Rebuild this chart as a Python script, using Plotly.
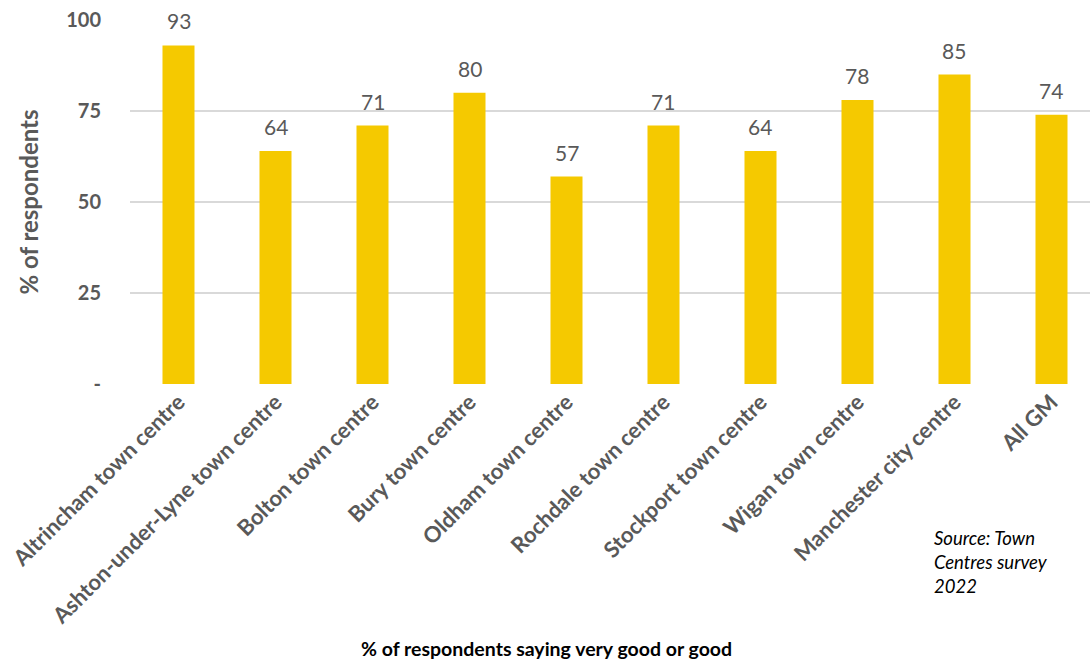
import plotly.graph_objects as go

categories = ["Altrincham town centre", "Ashton-under-Lyne town centre", "Bolton town centre",
              "Bury town centre", "Oldham town centre", "Rochdale town centre",
              "Stockport town centre", "Wigan town centre", "Manchester city centre", "All GM"]
values = [93, 64, 71, 80, 57, 71, 64, 78, 85, 74]
ytick_vals = [0, 25, 50, 75, 100]
ytick_text = ["-", "25", "50", "75", "100"]

FONT = "Lato, 'Open Sans', sans-serif"
GREY = "#595959"

L, R, T, B = 130, 0, 20, 277
W, H = 1090, 661
pw, ph = W - L - R, H - T - B
def px(xp): return (xp - L) / pw
def py(yp): return (H - B - yp) / ph

xs = list(range(len(categories)))
fig = go.Figure(go.Bar(
    x=xs, y=values,
    marker=dict(color="#F5C900", line=dict(width=0)),
    width=0.33,
))

annotations = [
    dict(x=xi, y=v, xref="x", yref="y", text=str(v), showarrow=False,
         xanchor="center", yanchor="bottom", yshift=10,
         font=dict(family=FONT, size=21, color=GREY))
    for xi, v in zip(xs, values)
]
annotations += [
    dict(text="% of respondents saying very good or good", xref="paper", yref="paper",
         x=px(546), y=py(648), xanchor="center", yanchor="middle",
         showarrow=False, font=dict(family=FONT, size=19.5, color="black", weight="bold")),
    dict(text="<i>Source: Town<br>Centres survey<br>2022</i>", xref="paper", yref="paper",
         x=px(932), y=py(525), xanchor="left", yanchor="top",
         showarrow=False, align="left",
         font=dict(family=FONT, size=18.5, color="black")),
]

fig.update_layout(
    width=W, height=H,
    margin=dict(l=L, r=R, t=T, b=B, autoexpand=False),
    plot_bgcolor="white", paper_bgcolor="white",
    showlegend=False,
    xaxis=dict(
        tickmode="array", tickvals=xs, ticktext=categories,
        tickangle=-45, range=[-0.5, 9.397], automargin=False,
        tickfont=dict(family=FONT, size=22, color=GREY, weight="bold"),
        showgrid=False, zeroline=False, showline=False, ticks="",
    ),
    yaxis=dict(
        range=[0, 100], tickmode="array", tickvals=ytick_vals, ticktext=ytick_text,
        tickfont=dict(family=FONT, size=20, color=GREY, weight="bold"),
        showgrid=True, gridcolor="#D9D9D9", gridwidth=1.5, zeroline=False,
        ticklabelstandoff=28, automargin=False,
        title=dict(text="% of respondents", font=dict(family=FONT, size=24, color=GREY, weight="bold"), standoff=20),
    ),
    annotations=annotations,
)

fig.write_html("out.html", config={"displayModeBar": False},
               post_script="document.body.style.margin='0';")
